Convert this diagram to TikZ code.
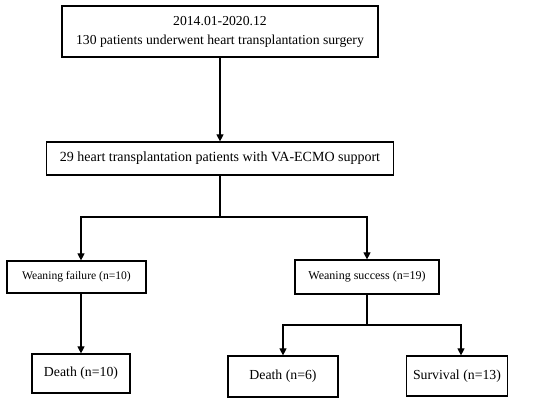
\documentclass[tikz,border=0pt]{standalone}
\usepackage{fontspec}
\setmainfont{Liberation Serif}
\usetikzlibrary{arrows.meta}
\begin{document}
\begin{tikzpicture}[x=1pt,y=-1pt,
  box/.style={draw,line width=1.2pt,inner sep=0pt,align=center},
  conn/.style={line width=1.2pt},
  arr/.style={line width=1.2pt,-{Triangle[length=7pt,width=7pt]}}]
\useasboundingbox (0,0) rectangle (536,403);
\node[box,minimum width=316pt,minimum height=51pt,font=\fontsize{13.7}{19}\selectfont] (top) at (220,31.5) {2014.01-2020.12\\130 patients underwent heart transplantation surgery};
\node[box,minimum width=347pt,minimum height=33pt,font=\fontsize{14}{16}\selectfont] (mid) at (220,158.5) {29 heart transplantation patients with VA-ECMO support};
\node[box,minimum width=139pt,minimum height=32pt,font=\fontsize{11.6}{14}\selectfont] (fail) at (76.5,277) {Weaning failure (n=10)};
\node[box,minimum width=144pt,minimum height=34pt,font=\fontsize{12}{14}\selectfont] (succ) at (367,277) {Weaning success (n=19)};
\node[box,minimum width=98pt,minimum height=39pt,font=\fontsize{13.8}{16}\selectfont] (d1) at (81,373.5) {Death (n=10)};
\node[box,minimum width=110pt,minimum height=41pt,font=\fontsize{13.8}{16}\selectfont] (d2) at (283,376.5) {Death (n=6)};
\node[box,minimum width=101pt,minimum height=40pt,font=\fontsize{13.8}{16}\selectfont] (surv) at (457,376) {Survival (n=13)};
\coordinate (j1) at (220,217);
\coordinate (j2) at (367,325);
\draw[arr] (top.south) -- (mid.north);
\draw[conn] (mid.south) -- (j1);
\draw[arr] (j1) -| (d1 |- fail.north);
\draw[arr] (j1) -| (succ.north);
\draw[arr] (d1 |- fail.south) -- (d1.north);
\draw[conn] (succ.south) -- (j2);
\draw[arr] (j2) -| (d2.north);
\draw[arr] (j2) -| ([xshift=4pt]surv.north);
\end{tikzpicture}
\end{document}
